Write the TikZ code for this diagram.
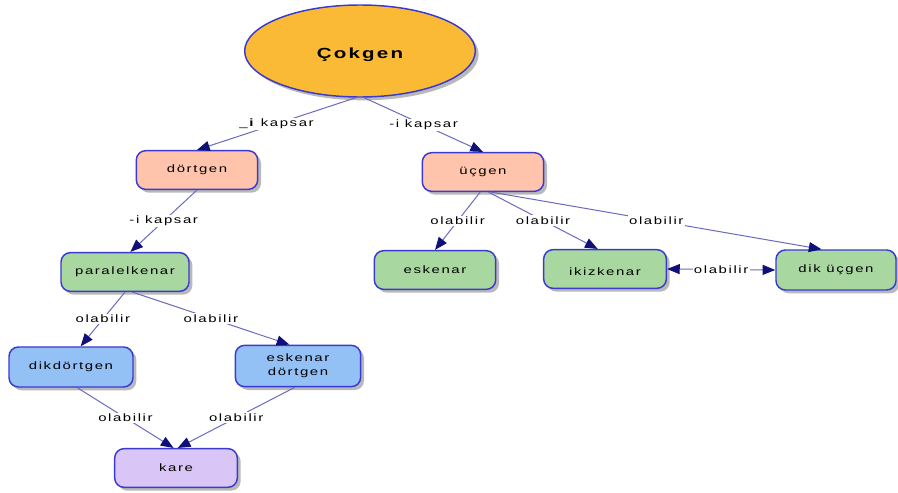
\documentclass[tikz,border=0pt]{standalone}
\usepackage{fontspec}
\setmainfont[FakeStretch=1.4, LetterSpace=15]{Liberation Sans}
\usetikzlibrary{arrows.meta,shadows,shapes.geometric}

\definecolor{bord}{HTML}{3A3AD0}
\definecolor{edgec}{HTML}{6A6AC0}
\definecolor{tipc}{HTML}{10107A}
\definecolor{orangef}{HTML}{FBBA35}
\definecolor{salmonf}{HTML}{FFC4AB}
\definecolor{greenf}{HTML}{A8D8A0}
\definecolor{bluef}{HTML}{93C0F5}
\definecolor{purplef}{HTML}{D9C5F6}

% shift text down without changing the box that centres it
\newcommand{\lowered}[2]{\raisebox{-#1}[\height][\depth]{#2}}

\tikzset{
  shade box/.style={drop shadow={shadow xshift=2.5pt, shadow yshift=-2.5pt, fill=black!50, opacity=0.55}},
  box/.style={draw=bord, line width=1.1pt, rounded corners=7pt, inner sep=0pt,
    minimum width=91pt, minimum height=29pt, align=center,
    font=\fontsize{8}{10.5}\selectfont, shade box},
  top/.style={ellipse, draw=bord, line width=1.1pt, fill=orangef, inner sep=0pt,
    minimum width=173pt, minimum height=69pt,
    font=\fontsize{11}{13}\selectfont\bfseries, shade box},
  conn/.style={draw=edgec, line width=0.75pt, -{Triangle[length=9.5pt,width=7.5pt,color=tipc]}},
  biconn/.style={draw=edgec, line width=0.75pt,
    {Triangle[length=9.5pt,width=7.5pt,color=tipc]}-{Triangle[length=9.5pt,width=7.5pt,color=tipc]}},
  lbl/.style={fill=white, inner sep=1pt, text=black, font=\fontsize{8}{10}\selectfont}
}

\begin{document}
\begin{tikzpicture}[x=0.75pt,y=-0.75pt]
  \fill[white] (0,0) rectangle (898,492);
  \useasboundingbox (0,0) rectangle (898,492);

  % concept nodes
  \node[top] (cok) at (360,51) {\lowered{3pt}{Çokgen}};

  \node[box, fill=salmonf] (dortgen) at (197,170) {dörtgen};
  \node[box, fill=salmonf] (ucgen) at (483,172) {üçgen};

  \node[box, fill=greenf, minimum width=96pt] (para) at (125,272) {paralelkenar};
  \node[box, fill=greenf] (eskenar) at (435,270) {eskenar};
  \node[box, fill=greenf, minimum width=92pt] (ikiz) at (605,269) {\lowered{2pt}{ikizkenar}};
  \node[box, fill=greenf, minimum width=90pt, minimum height=30pt] (dik) at (836,270) {dik üçgen};

  \node[box, fill=bluef, minimum width=93pt, minimum height=30pt] (dikd) at (71,367) {dikdörtgen};
  \node[box, fill=bluef, minimum width=94pt, minimum height=31pt] (eskd) at (298,366) {eskenar\\dörtgen};

  \node[box, fill=purplef, minimum width=92pt] (kare) at (176,468) {kare};

  % relations
  \draw[conn] (cok.265) -- node[lbl] {\_\textbf{i} kapsar} (dortgen.north);
  \draw[conn] (cok.275) -- node[lbl] {-i kapsar} (ucgen.north);
  \draw[conn] (dortgen.south) -- node[lbl] {-i kapsar} (para.75);

  \draw[conn] (ucgen.262) -- node[lbl] {olabilir} (eskenar.north);
  \draw[conn] (ucgen.285) -- node[lbl] {olabilir} (ikiz.110);
  \draw[conn] (ucgen.292) -- node[lbl] {olabilir} (dik.125);
  \draw[biconn] (ikiz.east) -- node[lbl] {olabilir} (dik.west);

  \draw[conn] (para.south) -- node[lbl] {olabilir} (dikd.65);
  \draw[conn] (para.290) -- node[lbl] {olabilir} (eskd.112);

  \draw[conn] (dikd.287) -- node[lbl] {olabilir} (kare.97);
  \draw[conn] (eskd.261) -- node[lbl] {olabilir} (kare.85);
\end{tikzpicture}
\end{document}
